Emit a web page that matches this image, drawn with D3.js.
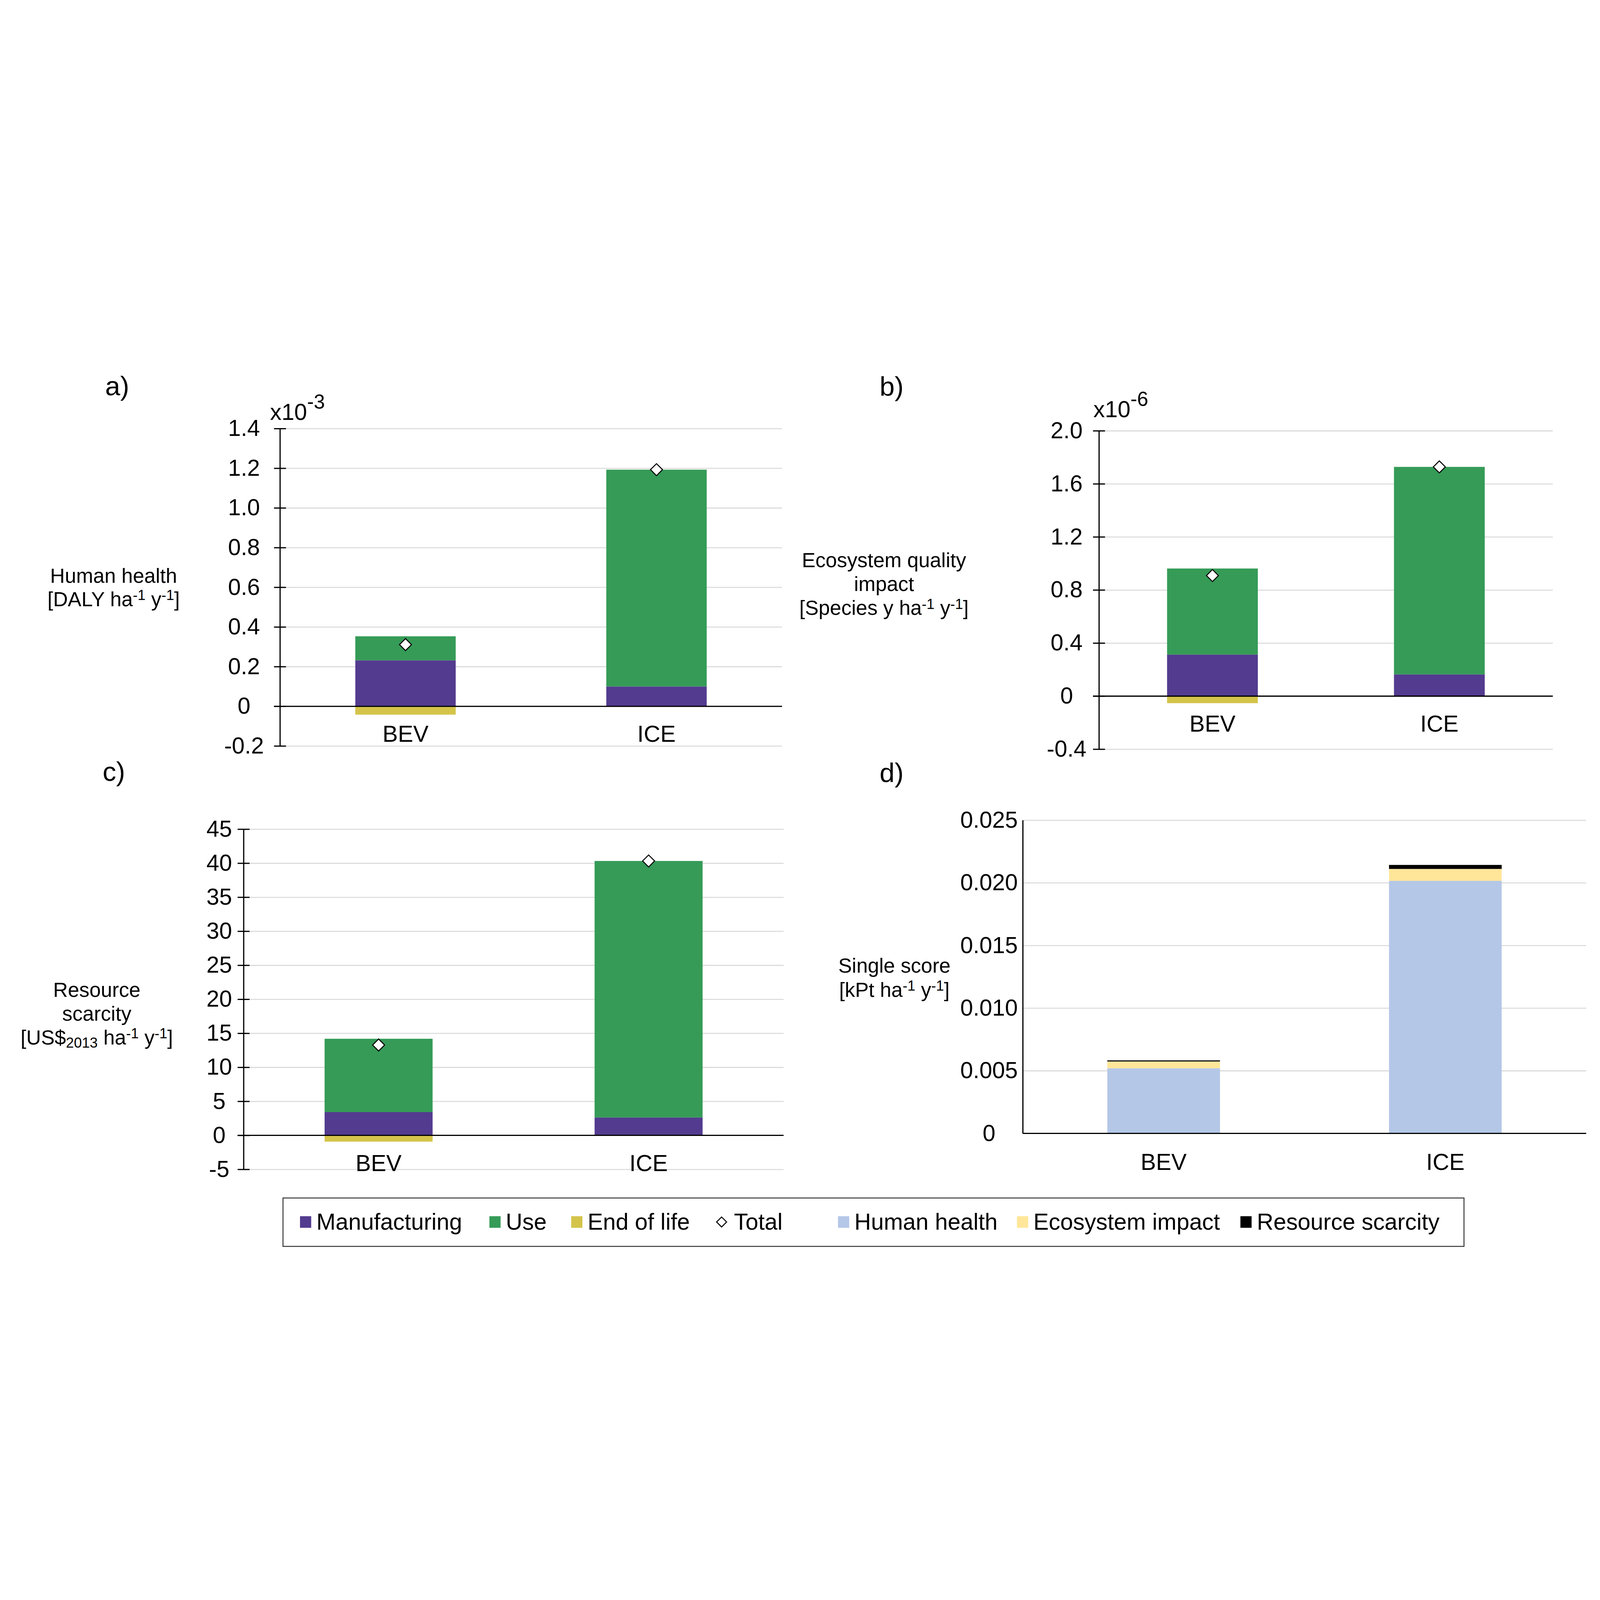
<!DOCTYPE html>
<html>
<head>
<meta charset="utf-8">
<script src="https://cdn.jsdelivr.net/npm/d3@7"></script>
<style>
html, body { margin: 0; padding: 0; width: 100%; height: 100%; overflow: hidden; background: #fff; }
svg { display: block; }
svg text { font-family: "Liberation Sans", Arial, sans-serif; fill: #000; }
</style>
</head>
<body>
<svg id="chart" viewBox="0 0 8000 4500" preserveAspectRatio="xMidYMid meet" width="100%" height="100%"></svg>
<script>
const categories = ["BEV", "ICE"];
const stageKeys = ["Manufacturing", "Use", "End of life"];
const stageColors = ["#533b8f", "#359b57", "#d4c44a"];
const scoreKeys = ["Human health", "Ecosystem impact", "Resource scarcity"];
const scoreColors = ["#b4c7e7", "#ffe699", "#000000"];

// a) human health, in 10^-3 DALY ha-1 y-1
const healthManufacturing = [0.232, 0.100];
const healthUse = [0.121, 1.093];
const healthEndOfLife = [-0.042, 0];
const healthTicks = [-0.2, 0, 0.2, 0.4, 0.6, 0.8, 1.0, 1.2, 1.4];

// b) ecosystem quality, in 10^-6 species y ha-1 y-1
const ecoManufacturing = [0.313, 0.164];
const ecoUse = [0.649, 1.564];
const ecoEndOfLife = [-0.053, 0];
const ecoTicks = [-0.4, 0, 0.4, 0.8, 1.2, 1.6, 2.0];

// c) resource scarcity, US$2013 ha-1 y-1
const resManufacturing = [3.42, 2.63];
const resUse = [10.78, 37.70];
const resEndOfLife = [-0.92, 0];
const resTicks = [-5, 0, 5, 10, 15, 20, 25, 30, 35, 40, 45];

// d) single score, kPt ha-1 y-1
const scoreHealth = [0.00520, 0.02016];
const scoreEcosystem = [0.00054, 0.00095];
const scoreResource = [0.00009, 0.00032];
const scoreTicks = [0, 0.005, 0.010, 0.015, 0.020, 0.025];

const FONT = '"Liberation Sans", Arial, sans-serif';
const svg = d3.select("#chart");
const locale = d3.formatLocale({decimal: ".", thousands: ",", grouping: [3], currency: ["$", ""], minus: "-"});

const oneDecimal = v => v === 0 ? "0" : locale.format(".1f")(v);

// write text made of plain / superscript / subscript pieces
function richText(sel, segs, size, raise, drop, scale) {
    let shift = 0;
    segs.forEach(s => {
        const target = s.sup ? -raise : s.sub ? drop : 0;
        const t = sel.append("tspan").text(s.t).attr("dy", target - shift);
        if (s.sup || s.sub) t.attr("font-size", size * scale);
        shift = target;
    });
}

function drawPanel(p) {
    const g = svg.append("g");
    const y = d3.scaleLinear().domain(p.domain).range([p.bottom, p.top]);
    const x = d3.scaleBand().domain(categories).range([p.left, p.right])
        .paddingInner(0.6).paddingOuter(0.3);

    // gridlines
    g.append("g")
        .attr("transform", `translate(${p.left},0)`)
        .call(d3.axisLeft(y).tickValues(p.ticks.filter(v => v !== 0 || p.tick > 0))
            .tickSize(-(p.right - p.left)).tickFormat(""))
        .call(a => a.select(".domain").remove())
        .selectAll("line").attr("stroke", "#d9d9d9").attr("stroke-width", 5);

    // stacked bars
    const rows = categories.map((c, i) => {
        const r = {category: c};
        p.keys.forEach((k, j) => r[k] = p.series[j][i]);
        return r;
    });
    const stacked = d3.stack().keys(p.keys).offset(d3.stackOffsetDiverging)(rows);
    g.append("g").selectAll("g").data(stacked).join("g")
        .attr("fill", (d, i) => p.colors[i])
        .selectAll("rect").data(d => d).join("rect")
        .attr("x", d => x(d.data.category))
        .attr("width", x.bandwidth())
        .attr("y", d => y(Math.max(d[0], d[1])))
        .attr("height", d => Math.abs(y(d[0]) - y(d[1])));

    // y axis, labels centred in a column left of the axis
    const axis = d3.axisLeft(y).tickValues(p.ticks).tickFormat(p.format)
        .tickSizeOuter(0).tickSizeInner(p.tick);
    const ag = g.append("g").attr("transform", `translate(${p.left},0)`).call(axis)
        .attr("font-size", 115).attr("font-family", FONT);
    ag.select(".domain").attr("stroke", "#000").attr("stroke-width", 6);
    ag.selectAll(".tick line").attr("x1", p.tick).attr("stroke", "#000").attr("stroke-width", 6);
    ag.selectAll(".tick text").attr("fill", "#000")
        .attr("text-anchor", "middle").attr("x", p.labelX - p.left);

    // zero line
    g.append("line")
        .attr("x1", p.left - p.tick).attr("x2", p.right)
        .attr("y1", y(0)).attr("y2", y(0))
        .attr("stroke", "#000").attr("stroke-width", 6);

    // category labels
    g.append("g").attr("transform", `translate(0,${y(0)})`)
        .call(d3.axisBottom(x).tickSize(0).tickPadding(p.catPad))
        .attr("font-size", 115).attr("font-family", FONT)
        .call(a => a.select(".domain").remove())
        .selectAll("text").attr("fill", "#000");

    // totals
    if (p.totals) {
        const diamond = d3.symbol(d3.symbolSquare, 1800)();
        g.append("g").selectAll("path").data(rows).join("path")
            .attr("d", diamond)
            .attr("transform", d => `translate(${x(d.category) + x.bandwidth() / 2},${y(d3.sum(p.keys, k => d[k]))}) rotate(45)`)
            .attr("fill", "#fff").attr("stroke", "#000").attr("stroke-width", 5);
    }

    // multiplier
    if (p.mult) {
        const t = g.append("text").attr("x", p.mult.x).attr("y", p.mult.y).attr("font-size", 115);
        richText(t, [{t: "x10"}, {t: p.mult.exp, sup: true}], 115, 57, 0, 0.87);
    }

    // axis title
    p.title.forEach((line, i) => {
        const t = g.append("text").attr("x", p.titleX).attr("y", p.titleY[i])
            .attr("font-size", 102).attr("text-anchor", "middle");
        richText(t, line, 102, 31, 16, 0.7);
    });

    // panel letter
    g.append("text").attr("x", p.letterX).attr("y", p.letterY)
        .attr("font-size", 135).text(p.letter);
}

drawPanel({
    letter: "a)", letterX: 526, letterY: 226,
    left: 1400, right: 3910, top: 393, bottom: 1980,
    domain: [-0.2, 1.4], ticks: healthTicks, format: oneDecimal,
    tick: 30, labelX: 1220, catPad: 96,
    keys: stageKeys, colors: stageColors, totals: true,
    series: [healthManufacturing, healthUse, healthEndOfLife],
    mult: {x: 1350, y: 350, exp: "-3"},
    titleX: 568, titleY: [1165, 1281],
    title: [[{t: "Human health"}],
            [{t: "[DALY ha"}, {t: "-1", sup: true}, {t: " y"}, {t: "-1", sup: true}, {t: "]"}]]
});

drawPanel({
    letter: "b)", letterX: 4398, letterY: 228,
    left: 5495, right: 7764, top: 404, bottom: 1996,
    domain: [-0.4, 2.0], ticks: ecoTicks, format: oneDecimal,
    tick: 30, labelX: 5333, catPad: 96,
    keys: stageKeys, colors: stageColors, totals: true,
    series: [ecoManufacturing, ecoUse, ecoEndOfLife],
    mult: {x: 5467, y: 336, exp: "-6"},
    titleX: 4420, titleY: [1085, 1205, 1325],
    title: [[{t: "Ecosystem quality"}], [{t: "impact"}],
            [{t: "[Species y ha"}, {t: "-1", sup: true}, {t: " y"}, {t: "-1", sup: true}, {t: "]"}]]
});

drawPanel({
    letter: "c)", letterX: 513, letterY: 2155,
    left: 1218, right: 3918, top: 2396, bottom: 4097,
    domain: [-5, 45], ticks: resTicks, format: locale.format("d"),
    tick: 30, labelX: 1096, catPad: 96,
    keys: stageKeys, colors: stageColors, totals: true,
    series: [resManufacturing, resUse, resEndOfLife],
    titleX: 484, titleY: [3234, 3354, 3473],
    title: [[{t: "Resource"}], [{t: "scarcity"}],
            [{t: "[US$"}, {t: "2013", sub: true}, {t: " ha"}, {t: "-1", sup: true}, {t: " y"}, {t: "-1", sup: true}, {t: "]"}]]
});

drawPanel({
    letter: "d)", letterX: 4398, letterY: 2160,
    left: 5114, right: 7931, top: 2351, bottom: 3917,
    domain: [0, 0.025], ticks: scoreTicks, format: v => v === 0 ? "0" : locale.format(".3f")(v),
    tick: 0, labelX: 4945, catPad: 100,
    keys: scoreKeys, colors: scoreColors, totals: false,
    series: [scoreHealth, scoreEcosystem, scoreResource],
    titleX: 4472, titleY: [3114, 3234],
    title: [[{t: "Single score"}],
            [{t: "[kPt ha"}, {t: "-1", sup: true}, {t: " y"}, {t: "-1", sup: true}, {t: "]"}]]
});

// legend
const legend = svg.append("g");
legend.append("rect")
    .attr("x", 1415).attr("y", 4240).attr("width", 5905).attr("height", 242)
    .attr("fill", "#fff").attr("stroke", "#3a3a3a").attr("stroke-width", 5);

const legendItems = [
    ...stageKeys.map((k, i) => ({name: k, color: stageColors[i]})),
    {name: "Total", diamond: true},
    ...scoreKeys.map((k, i) => ({name: k, color: scoreColors[i]}))
];
const legendX = [1500, 2447, 2856, 3580, 4190, 5085, 6202];

legendItems.forEach((item, i) => {
    const x0 = legendX[i];
    if (item.diamond) {
        legend.append("path")
            .attr("d", d3.symbol(d3.symbolSquare, 1250)())
            .attr("transform", `translate(${x0 + 28},4360) rotate(45)`)
            .attr("fill", "#fff").attr("stroke", "#000").attr("stroke-width", 5);
    } else {
        legend.append("rect")
            .attr("x", x0).attr("y", 4331).attr("width", 56).attr("height", 58)
            .attr("fill", item.color);
    }
    legend.append("text")
        .attr("x", x0 + (item.diamond ? 90 : 82)).attr("y", 4398)
        .attr("font-size", 115).text(item.name);
});
</script>
</body>
</html>
